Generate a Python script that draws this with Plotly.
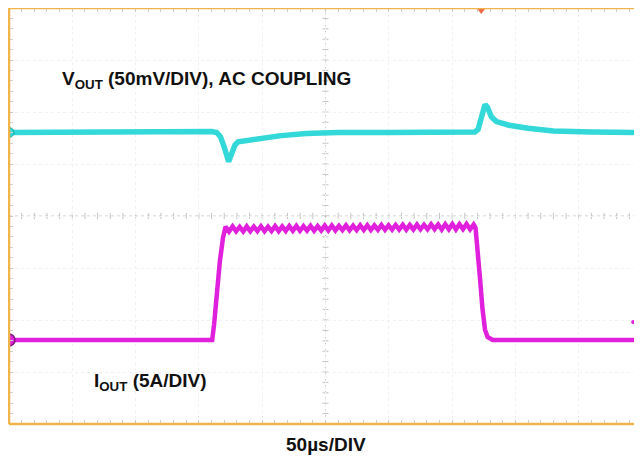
import plotly.graph_objects as go

# ---------------- data ----------------
# time axis: 50 us/div, 10 divisions
time_range_us = [0, 500]
div_count_x = 10
div_count_y = 8

# VOUT (AC coupled, mV) ; 50 mV/div
vout_t = [0, 40, 80, 120, 160, 164, 167, 170, 173.5, 176, 178.5, 181, 186, 198, 215, 235,
          260, 300, 340, 368, 370.5, 373, 376, 378, 381, 385, 395, 410, 430, 460, 500]
vout_mv = [0, 0.5, 0, 0.5, 1, 0, -4, -14, -28, -20, -12, -9, -8, -5.5, -3, -1,
           0, 0, 0.5, 0.5, 3, 14, 27, 24, 15, 10.5, 7, 4, 1.5, 0.5, 0]

# IOUT (A) ; 5 A/div
iout_low_t = [0, 40, 80, 120, 160.5]
iout_low_a = [0, 0, 0, 0, 0]
iout_rise_t = [162, 164, 166.5, 169, 170.5]
iout_rise_a = [1.5, 4.5, 7.5, 9.8, 10.5]
iout_high_t = [171.0, 173.8, 176.6, 179.4, 182.2, 185.0, 187.8, 190.6, 193.4, 196.2,
               199.0, 201.8, 204.6, 207.4, 210.2, 213.0, 215.8, 218.6, 221.4, 224.2,
               227.0, 229.8, 232.6, 235.4, 238.2, 241.0, 243.8, 246.6, 249.4, 252.2,
               255.0, 257.8, 260.6, 263.4, 266.2, 269.0, 271.8, 274.6, 277.4, 280.2,
               283.0, 285.8, 288.6, 291.4, 294.2, 297.0, 299.8, 302.6, 305.4, 308.2,
               311.0, 313.8, 316.6, 319.4, 322.2, 325.0, 327.8, 330.6, 333.4, 336.2,
               339.0, 341.8, 344.6, 347.4, 350.2, 353.0, 355.8, 358.6, 361.4, 364.2,
               367.0]
iout_high_a = [10.90, 10.43, 10.92, 10.45, 10.88, 10.44, 10.93, 10.46, 10.90, 10.47,
               10.94, 10.46, 10.91, 10.48, 10.95, 10.47, 10.92, 10.49, 10.96, 10.50,
               10.97, 10.50, 10.94, 10.52, 10.98, 10.51, 10.95, 10.53, 11.00, 10.54,
               11.01, 10.54, 10.98, 10.56, 11.02, 10.55, 10.99, 10.57, 11.04, 10.58,
               11.04, 10.57, 11.02, 10.59, 11.06, 10.60, 11.03, 10.61, 11.07, 10.62,
               11.08, 10.61, 11.06, 10.63, 11.10, 10.64, 11.07, 10.65, 11.12, 10.66,
               11.11, 10.62, 11.13, 10.64, 11.15, 10.63, 11.14, 10.66, 11.16, 10.65,
               11.10]
iout_fall_t = [368.5, 370, 372, 374, 376, 378, 382]
iout_fall_a = [10.8, 9, 6, 3, 1, 0.3, 0]
iout_tail_t = [400, 440, 480, 500]
iout_tail_a = [0, 0, 0, 0]

# channel scaling (units per division) and zero-level positions (in divisions from bottom)
vout_per_div = 50.0
iout_per_div = 5.0
vout_zero_div = 5.606
iout_zero_div = 1.615

trigger_t = 373
ref_marker_t = 493
ref_marker_a = 1.73

label_vout = "<b>V<sub>OUT</sub> (50mV/DIV), AC COUPLING</b>"
label_iout = "<b>I<sub>OUT</sub> (5A/DIV)</b>"
label_time = "<b>50µs/DIV</b>"

CYAN = "#33d8d8"
MAGENTA = "#e020dc"
ORANGE = "#f0b44a"
FONT = "Liberation Sans, Arial, sans-serif"

iout_t = iout_low_t + iout_rise_t + iout_high_t + iout_fall_t + iout_tail_t
iout_a = iout_low_a + iout_rise_a + iout_high_a + iout_fall_a + iout_tail_a

fig = go.Figure()

# invisible base trace so the division axis exists
fig.add_trace(go.Scatter(x=[0], y=[0], mode="markers", marker=dict(opacity=0),
                         showlegend=False, hoverinfo="skip", yaxis="y"))

fig.add_trace(go.Scatter(x=vout_t, y=vout_mv, mode="lines", yaxis="y2",
                         line=dict(color=CYAN, width=5.5), showlegend=False))
fig.add_trace(go.Scatter(x=iout_t, y=iout_a, mode="lines", yaxis="y3",
                         line=dict(color=MAGENTA, width=4.5), showlegend=False))

# channel ground markers
fig.add_trace(go.Scatter(x=[0], y=[0], mode="markers", yaxis="y2", cliponaxis=False,
                         marker=dict(color=CYAN, size=10, line=dict(color="#1aa8a8", width=1)),
                         showlegend=False))
fig.add_trace(go.Scatter(x=[0], y=[0], mode="markers", yaxis="y3", cliponaxis=False,
                         marker=dict(color=MAGENTA, size=12, line=dict(color="#7a1a7a", width=1.5)),
                         showlegend=False))
fig.add_trace(go.Scatter(x=[ref_marker_t], y=[ref_marker_a], mode="markers", yaxis="y3",
                         marker=dict(color=MAGENTA, size=4), showlegend=False))
# trigger marker
fig.add_trace(go.Scatter(x=[trigger_t], y=[div_count_y - 0.05], mode="markers", yaxis="y",
                         cliponaxis=False,
                         marker=dict(color="#f06a4a", size=7, symbol="triangle-down"),
                         showlegend=False))

# orange frame (left, top, bottom)
frame = dict(color=ORANGE, width=2.5)
fig.add_shape(type="line", xref="paper", yref="paper", x0=0, x1=0, y0=0, y1=1, line=frame)
fig.add_shape(type="line", xref="paper", yref="paper", x0=0, x1=1.01, y0=1, y1=1, line=frame)
fig.add_shape(type="line", xref="paper", yref="paper", x0=0, x1=1.01, y0=0, y1=0, line=frame)

# center graticule lines with small ticks
cx = (time_range_us[0] + time_range_us[1]) / 2
cy = div_count_y / 2
center_line = dict(color="#c9c9c9", width=1, dash="dot")
fig.add_shape(type="line", xref="x", yref="y", x0=cx, x1=cx, y0=0, y1=div_count_y,
              line=center_line, layer="below")
fig.add_shape(type="line", xref="x", yref="y", x0=0, x1=500, y0=cy, y1=cy,
              line=center_line, layer="below")
tick_style = dict(color="#c4c4c4", width=1)
for i in range(1, div_count_x * 5):
    t = i * 10
    fig.add_shape(type="line", xref="x", yref="y", x0=t, x1=t, y0=cy - 0.06, y1=cy + 0.06,
                  line=tick_style, layer="below")
for i in range(1, div_count_y * 5):
    d = i * 0.2
    fig.add_shape(type="line", xref="x", yref="y", x0=cx - 2.4, x1=cx + 2.4, y0=d, y1=d,
                  line=tick_style, layer="below")

fig.add_annotation(x=40.3, y=6.62, xref="x", yref="y", text=label_vout, showarrow=False,
                   xanchor="left", yanchor="middle", font=dict(family=FONT, size=19, color="#111"))
fig.add_annotation(x=65.6, y=0.81, xref="x", yref="y", text=label_iout, showarrow=False,
                   xanchor="left", yanchor="middle", font=dict(family=FONT, size=19, color="#111"))
fig.add_annotation(x=0.5, y=-0.05, xref="paper", yref="paper", text=label_time, showarrow=False,
                   xanchor="center", yanchor="middle", font=dict(family=FONT, size=19, color="#111"))

fig.update_layout(
    width=634, height=450,
    margin=dict(l=1, r=0, t=0, b=34),
    paper_bgcolor="white", plot_bgcolor="white",
    xaxis=dict(range=time_range_us, showticklabels=False, zeroline=False,
               showgrid=True, dtick=50, gridcolor="#f1f1f1", griddash="dot",
               ticks="inside", ticklen=4, tickcolor="#c8c8c8", mirror="ticks",
               showline=False,
               minor=dict(dtick=10, ticks="inside", ticklen=4, tickcolor="#d0d0d0", showgrid=False)),
    yaxis=dict(range=[0, div_count_y], showticklabels=False, zeroline=False,
               showgrid=True, dtick=1, gridcolor="#f1f1f1", griddash="dot",
               ticks="inside", ticklen=4, tickcolor="#c8c8c8", mirror="ticks",
               showline=False,
               minor=dict(dtick=0.2, ticks="inside", ticklen=4, tickcolor="#d0d0d0", showgrid=False)),
    yaxis2=dict(range=[-vout_zero_div * vout_per_div, (div_count_y - vout_zero_div) * vout_per_div],
                overlaying="y", visible=False),
    yaxis3=dict(range=[-iout_zero_div * iout_per_div, (div_count_y - iout_zero_div) * iout_per_div],
                overlaying="y", visible=False),
)

fig.write_html("out.html")
